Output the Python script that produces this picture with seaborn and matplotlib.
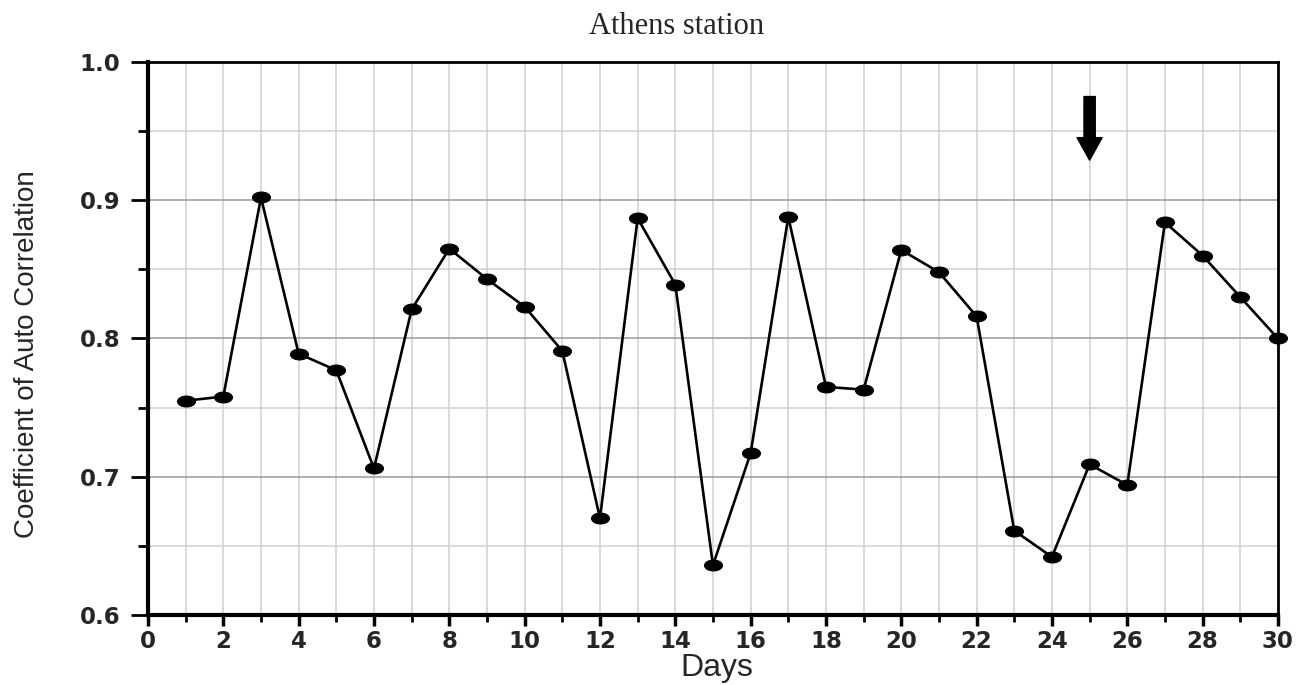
import numpy as np
import pandas as pd
import matplotlib
matplotlib.use("Agg")
import matplotlib.pyplot as plt
import seaborn as sns
from matplotlib.path import Path
from matplotlib.markers import MarkerStyle
from matplotlib.ticker import MultipleLocator
import matplotlib.transforms as mtransforms
from matplotlib import font_manager

days = list(range(1, 31))
acf = [0.755, 0.758, 0.902, 0.789, 0.777, 0.706, 0.821, 0.865, 0.843, 0.823,
       0.791, 0.670, 0.887, 0.839, 0.636, 0.717, 0.888, 0.765, 0.763, 0.864,
       0.848, 0.816, 0.661, 0.642, 0.709, 0.694, 0.884, 0.860, 0.830, 0.800]
title = "Athens station"
xlabel = "Days"
ylabel = "Coefficient of Auto Correlation"
arrow_day = 25
arrow_top, arrow_tip = 0.975, 0.929

df = pd.DataFrame({"Days": days, "ACF": acf})

sns.set_theme(style="white")
plt.rcParams['font.family'] = ['Liberation Sans', 'DejaVu Sans']

names = {f.name for f in font_manager.fontManager.ttflist}
narrow = 'Liberation Sans Narrow' if 'Liberation Sans Narrow' in names else 'Liberation Sans'

fig = plt.figure(figsize=(12.97, 6.85), dpi=100)
ax = fig.add_axes([0.1141, 0.1022, 0.8712, 0.8073])

ell = Path.unit_circle().transformed(mtransforms.Affine2D().scale(1.65, 1.0))
marker = MarkerStyle(ell)

sns.lineplot(data=df, x="Days", y="ACF", ax=ax, color="black", linewidth=1.9,
             marker=marker, markersize=13, markeredgecolor="black",
             markerfacecolor="black", clip_on=False, zorder=5)

ax.set_xlim(0, 30)
ax.set_ylim(0.6, 1.0)
ax.xaxis.set_major_locator(MultipleLocator(2))
ax.xaxis.set_minor_locator(MultipleLocator(1))
ax.yaxis.set_major_locator(MultipleLocator(0.1))
ax.yaxis.set_minor_locator(MultipleLocator(0.05))
ax.set_yticklabels([f"{v:.1f}" for v in ax.get_yticks()])

ax.grid(True, which="major", axis="y", color="#9a9a9a", linewidth=1.1)
ax.grid(True, which="minor", axis="y", color="#cfcfcf", linewidth=1.1)
ax.grid(True, which="both", axis="x", color="#cfcfcf", linewidth=1.1)
ax.set_axisbelow(True)

for side in ["left", "bottom"]:
    ax.spines[side].set_linewidth(3)
for side in ["top", "right"]:
    ax.spines[side].set_linewidth(2)
for s in ax.spines.values():
    s.set_color("black")

ax.tick_params(axis="x", which="major", direction="out", length=8, width=2.5,
               color="black", labelsize=16.5, pad=3, bottom=True)
ax.tick_params(axis="x", which="minor", direction="out", length=5, width=2,
               color="black", bottom=True)
ax.tick_params(axis="y", which="major", direction="out", length=12, width=2,
               color="black", labelsize=16.5, pad=8, left=True)
ax.tick_params(axis="y", which="minor", direction="out", length=7, width=2,
               color="black", left=True)
for lab in ax.get_xticklabels() + ax.get_yticklabels():
    lab.set_fontweight("bold")
    lab.set_family(["DejaVu Sans"])

ax.set_xlabel(xlabel, fontsize=23, family=["Liberation Sans", "DejaVu Sans"])
ax.xaxis.set_label_coords((717 - 148) / 1130, -(653 - 615) / 553)
ax.set_ylabel(ylabel, fontsize=20, family=[narrow, "DejaVu Sans"])
ax.yaxis.set_label_coords(-(148 - 40) / 1130, (615 - 354) / 553)
ax.set_title(title, fontsize=22, family=["Liberation Serif", "DejaVu Serif"],
             x=(677 - 148) / 1130, pad=20)

ax.annotate("", xy=(arrow_day, arrow_tip), xytext=(arrow_day, arrow_top),
            arrowprops=dict(arrowstyle="simple,head_length=0.9,head_width=1.0,tail_width=0.45",
                            color="black", shrinkA=0, shrinkB=0, mutation_scale=18))

fig.savefig("out.png", dpi=100)
